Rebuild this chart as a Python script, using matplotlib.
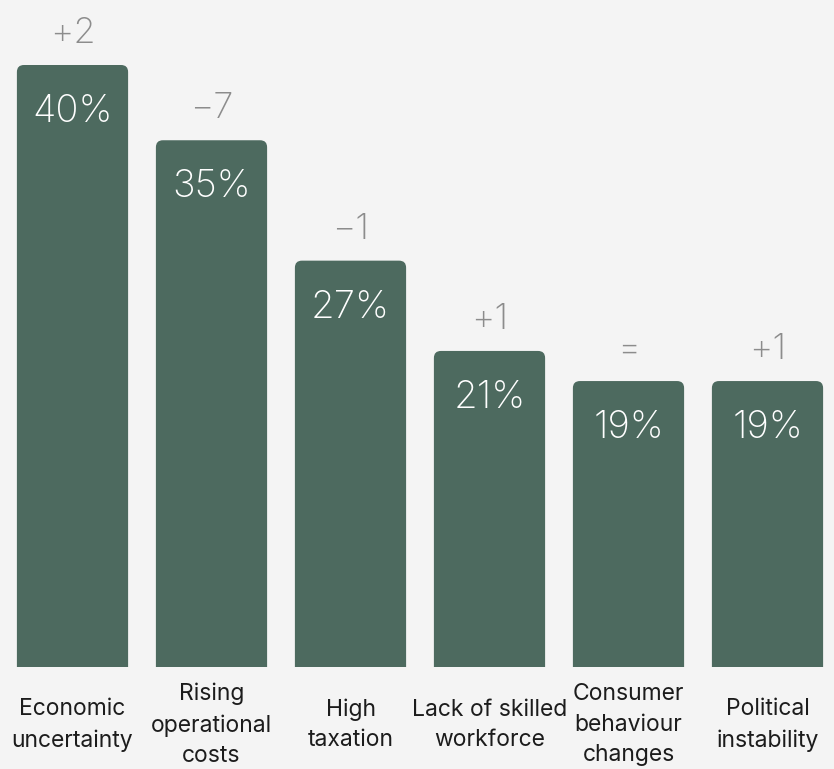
import matplotlib.pyplot as plt
from matplotlib.patches import FancyBboxPatch

# Data
categories = ["Economic\nuncertainty", "Rising\noperational\ncosts", "High\ntaxation",
              "Lack of skilled\nworkforce", "Consumer\nbehaviour\nchanges", "Political\ninstability"]
values = [40, 35, 27, 21, 19, 19]
changes = ["+2", "\u22127", "\u22121", "+1", "=", "+1"]

BAR_COLOR = "#4d6a5f"
BG_COLOR = "#f4f4f4"
CHANGE_COLOR = "#8c8c8c"
TEXT_COLOR = "#1c1c1c"
FONT = ["Inter", "DejaVu Sans"]

W, H, DPI = 834, 769, 100
fig = plt.figure(figsize=(W / DPI, H / DPI), dpi=DPI, facecolor=BG_COLOR)
ax = fig.add_axes([0, (H - 667) / H, 1, 667 / H])
ax.set_facecolor(BG_COLOR)

px_per_x = 139.0
px_per_y = 15.05
ax.set_xlim(-72.5 / px_per_x, (W - 72.5) / px_per_x)
ax.set_ylim(0, 667 / px_per_y)

x = list(range(len(values)))
bars = ax.bar(x, values, width=0.8, color=BAR_COLOR)

# replace square bars with round-topped ones
r = 7 / px_per_x
for b in bars:
    b.set_visible(False)
    patch = FancyBboxPatch((b.get_x(), -5), b.get_width(), b.get_height() + 5,
                           boxstyle=f"round,pad=0,rounding_size={r}",
                           mutation_aspect=px_per_x / px_per_y,
                           facecolor=BAR_COLOR, edgecolor="none", clip_on=True)
    ax.add_patch(patch)

for xi, v, c in zip(x, values, changes):
    ax.annotate(f"{v}%", (xi, v), xytext=(0, -57 * 0.72), textcoords="offset points",
                ha="center", va="baseline", fontsize=27.5, color="white",
                family=FONT, fontweight="light")
    ax.annotate(c, (xi, v), xytext=(0, 22 * 0.72), textcoords="offset points",
                ha="center", va="baseline", fontsize=26, color=CHANGE_COLOR,
                family=FONT, fontweight="light")
    ax.annotate(categories[xi], (xi, 0), xytext=(0, -58 * 0.72), textcoords="offset points",
                ha="center", va="center", fontsize=16.5, color=TEXT_COLOR,
                family=FONT, linespacing=1.5, annotation_clip=False)

ax.axis("off")
fig.savefig("out.png", dpi=DPI, facecolor=BG_COLOR)
